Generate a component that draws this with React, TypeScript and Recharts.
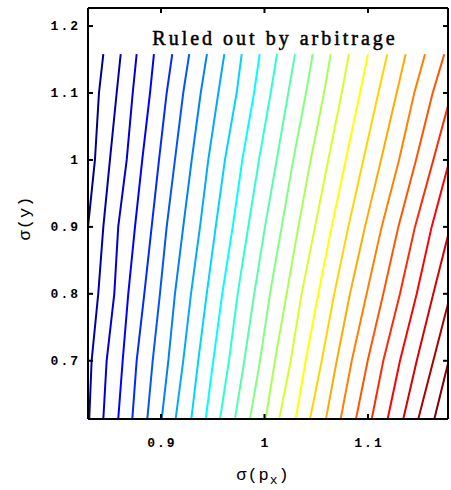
import React from 'react';
import { LineChart, Line, XAxis, YAxis } from 'recharts';

const xDomain = [0.8295, 1.1773];
const yDomain = [0.613, 1.227];
const xTicks = [0.9, 1, 1.1];
const yTicks = [0.7, 0.8, 0.9, 1, 1.1, 1.2];

// contour lines as [sigma(px), sigma(y)], bottom to top
const c01 = [[0.8295, 0.9], [0.8362, 1.0], [0.8401, 1.1], [0.8443, 1.158]];
const c02 = [[0.8307, 0.613], [0.833, 0.7], [0.8394, 0.8], [0.8443, 0.9], [0.8507, 1.0], [0.8572, 1.1], [0.8611, 1.158]];
const c03 = [[0.8443, 0.613], [0.8475, 0.7], [0.8549, 0.8], [0.8587, 0.9], [0.8669, 1.0], [0.8727, 1.1], [0.8765, 1.158]];
const c04 = [[0.8587, 0.613], [0.863, 0.7], [0.8684, 0.8], [0.8749, 0.9], [0.8819, 1.0], [0.8894, 1.1], [0.8932, 1.158]];
const c05 = [[0.8723, 0.613], [0.8765, 0.7], [0.8839, 0.8], [0.891, 0.9], [0.8981, 1.0], [0.9055, 1.1], [0.9109, 1.158]];
const c06 = [[0.8868, 0.613], [0.892, 0.7], [0.899, 0.8], [0.9055, 0.9], [0.9135, 1.0], [0.9215, 1.1], [0.9273, 1.158]];
const c07 = [[0.9007, 0.613], [0.9071, 0.7], [0.9135, 0.8], [0.9215, 0.9], [0.9297, 1.0], [0.9384, 1.1], [0.9444, 1.158]];
const c08 = [[0.9142, 0.613], [0.9215, 0.7], [0.929, 0.8], [0.9377, 0.9], [0.9457, 1.0], [0.9554, 1.1], [0.9612, 1.158]];
const c09 = [[0.9293, 0.613], [0.936, 0.7], [0.9442, 0.8], [0.9529, 0.9], [0.9618, 1.0], [0.9731, 1.1], [0.978, 1.158]];
const c10 = [[0.9432, 0.613], [0.9505, 0.7], [0.9592, 0.8], [0.9693, 0.9], [0.9786, 1.0], [0.9899, 1.1], [0.9954, 1.158]];
const c11 = [[0.957, 0.613], [0.9657, 0.7], [0.9741, 0.8], [0.9843, 0.9], [0.9947, 1.0], [1.006, 1.1], [1.0121, 1.158]];
const c12 = [[0.9715, 0.613], [0.9805, 0.7], [0.9901, 0.8], [1.0005, 0.9], [1.0118, 1.0], [1.023, 1.1], [1.0295, 1.158]];
const c13 = [[0.986, 0.613], [0.9957, 0.7], [1.0053, 0.8], [1.0166, 0.9], [1.0278, 1.0], [1.0401, 1.1], [1.0466, 1.158]];
const c14 = [[1.0012, 0.613], [1.0101, 0.7], [1.0214, 0.8], [1.0327, 0.9], [1.0446, 1.0], [1.0575, 1.1], [1.064, 1.158]];
const c15 = [[1.0143, 0.613], [1.0253, 0.7], [1.0359, 0.8], [1.0488, 0.9], [1.0616, 1.0], [1.0746, 1.1], [1.0816, 1.158]];
const c16 = [[1.0301, 0.613], [1.0398, 0.7], [1.052, 0.8], [1.0649, 0.9], [1.0785, 1.0], [1.0923, 1.1], [1.1, 1.158]];
const c17 = [[1.044, 0.613], [1.0553, 0.7], [1.0674, 0.8], [1.081, 0.9], [1.0955, 1.0], [1.11, 1.1], [1.1186, 1.158]];
const c18 = [[1.0594, 0.613], [1.0698, 0.7], [1.0826, 0.8], [1.0971, 0.9], [1.1126, 1.0], [1.1277, 1.1], [1.1364, 1.158]];
const c19 = [[1.0736, 0.613], [1.0843, 0.7], [1.0987, 0.8], [1.1132, 0.9], [1.13, 1.0], [1.1447, 1.1], [1.1551, 1.158]];
const c20 = [[1.0884, 0.613], [1.0997, 0.7], [1.1148, 0.8], [1.1293, 0.9], [1.1464, 1.0], [1.1625, 1.1], [1.1737, 1.158]];
const c21 = [[1.1036, 0.613], [1.1148, 0.7], [1.1309, 0.8], [1.1454, 0.9], [1.1631, 1.0], [1.1773, 1.081]];
const c22 = [[1.119, 0.613], [1.1309, 0.7], [1.1471, 0.8], [1.1615, 0.9], [1.1773, 0.991]];
const c23 = [[1.1341, 0.613], [1.1471, 0.7], [1.1631, 0.8], [1.1773, 0.887]];
const c24 = [[1.1486, 0.613], [1.1631, 0.7], [1.1773, 0.785]];
const c25 = [[1.1641, 0.613], [1.1773, 0.696]];

const contours = [c01, c02, c03, c04, c05, c06, c07, c08, c09, c10, c11, c12, c13,
  c14, c15, c16, c17, c18, c19, c20, c21, c22, c23, c24, c25];

// jet colour map
const jet = (t: number) => {
  const c = (v: number) => Math.round(255 * Math.max(0, Math.min(1, v)));
  const r = c(1.5 - Math.abs(4 * t - 3));
  const g = c(1.5 - Math.abs(4 * t - 2));
  const b = c(1.5 - Math.abs(4 * t - 1));
  return `rgb(${r},${g},${b})`;
};

const tickFont = {
  fontFamily: '"Liberation Mono", monospace',
  fontWeight: 700,
  fontSize: 13,
  letterSpacing: 2,
  fill: '#000',
};

const BottomTick = ({ x, y, payload }: any) => (
  <g>
    <line x1={x} x2={x} y1={y} y2={y - 5} stroke="#000" strokeWidth={2} />
    <text x={x + 1} y={y + 28} textAnchor="middle" style={tickFont}>{payload.value}</text>
  </g>
);

const LeftTick = ({ x, y, payload }: any) => (
  <g>
    <line x1={x} x2={x + 5} y1={y} y2={y} stroke="#000" strokeWidth={2} />
    <text x={x - 8} y={y + 4} textAnchor="end" style={tickFont}>{payload.value}</text>
  </g>
);

const TopTick = ({ x, y }: any) => (
  <line x1={x} x2={x} y1={y} y2={y + 5} stroke="#000" strokeWidth={2} />
);

const RightTick = ({ x, y }: any) => (
  <line x1={x} x2={x - 5} y1={y} y2={y} stroke="#000" strokeWidth={2} />
);

const labelFont = {
  fontFamily: '"Liberation Mono", monospace',
  fontSize: 17,
  letterSpacing: 1,
  fill: '#000',
};

export default function App() {
  return (
    <div style={{ position: 'absolute', left: 0, top: 0, width: 451, height: 490, background: '#fff' }}>
      <LineChart width={451} height={490} margin={{ top: 0, right: 0, bottom: 0, left: 0 }}>
        <XAxis
          xAxisId="b"
          type="number"
          dataKey="x"
          domain={xDomain}
          ticks={xTicks}
          allowDataOverflow
          height={71}
          tickSize={0}
          tickMargin={0}
          tickLine={false}
          axisLine={{ stroke: '#000', strokeWidth: 2 }}
          tick={<BottomTick />}
        />
        <XAxis
          xAxisId="t"
          orientation="top"
          type="number"
          dataKey="x"
          domain={xDomain}
          ticks={xTicks}
          allowDataOverflow
          height={8}
          tickSize={0}
          tickMargin={0}
          tickLine={false}
          axisLine={{ stroke: '#000', strokeWidth: 2 }}
          tick={<TopTick />}
        />
        <YAxis
          yAxisId="l"
          type="number"
          domain={yDomain}
          ticks={yTicks}
          allowDataOverflow
          width={88}
          tickSize={0}
          tickMargin={0}
          tickLine={false}
          axisLine={{ stroke: '#000', strokeWidth: 2 }}
          tick={<LeftTick />}
        />
        <YAxis
          yAxisId="r"
          orientation="right"
          type="number"
          domain={yDomain}
          ticks={yTicks}
          allowDataOverflow
          width={3}
          tickSize={0}
          tickMargin={0}
          tickLine={false}
          axisLine={{ stroke: '#000', strokeWidth: 2 }}
          tick={<RightTick />}
        />
        {contours.map((c, i) => (
          <Line
            key={i}
            xAxisId="b"
            yAxisId="l"
            data={c.map(([x, y]) => ({ x, y }))}
            dataKey="y"
            type="linear"
            stroke={jet(i / (contours.length - 1))}
            strokeWidth={2}
            dot={false}
            activeDot={false}
            isAnimationActive={false}
          />
        ))}
      </LineChart>
      <svg width={451} height={490} style={{ position: 'absolute', left: 0, top: 0, pointerEvents: 'none' }}>
        <text x={275} y={45} textAnchor="middle" stroke="#000" strokeWidth={0.5}
          style={{ fontFamily: '"Liberation Serif", serif', fontSize: 20, letterSpacing: 3, fill: '#000' }}>
          Ruled out by arbitrage
        </text>
        <text x={263} y={480} textAnchor="middle" style={labelFont}>
          σ(p<tspan dy={4} fontSize={13}>x</tspan><tspan dy={-4}>)</tspan>
        </text>
        <text x={0} y={0} transform="translate(30,218) rotate(-90)" textAnchor="middle" style={labelFont}>
          σ(y)
        </text>
      </svg>
    </div>
  );
}
